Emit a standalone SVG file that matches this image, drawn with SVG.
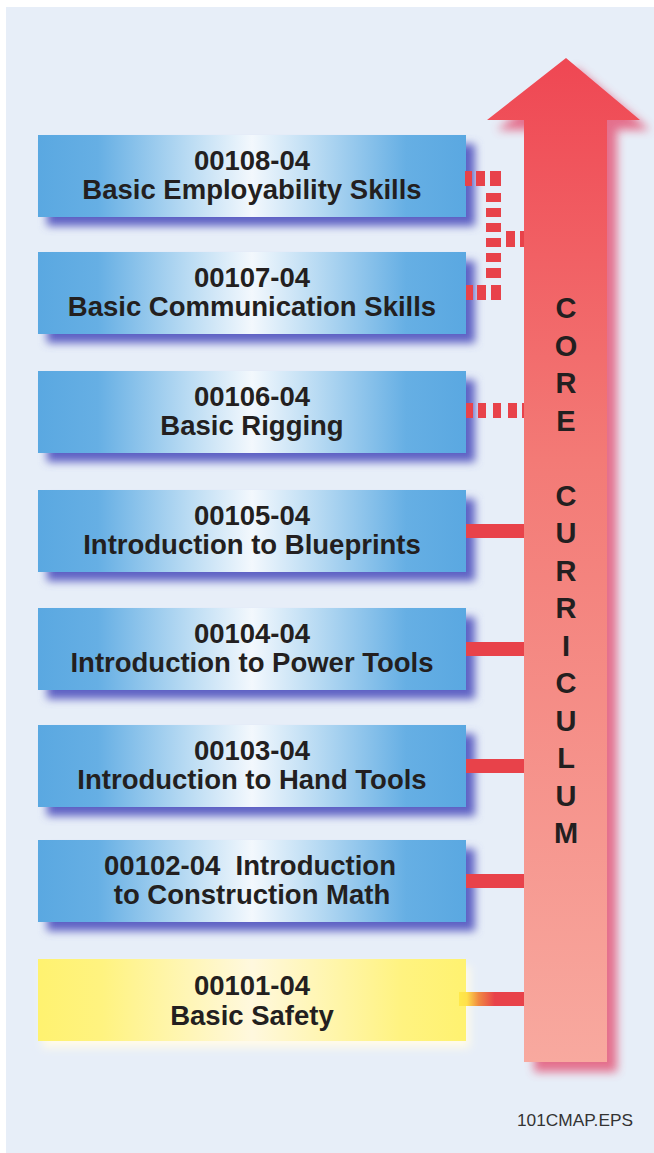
<svg xmlns="http://www.w3.org/2000/svg" width="654" height="1153" viewBox="0 0 654 1153">
<defs>
<linearGradient id="gBlue" x1="0" y1="0" x2="1" y2="0">
<stop offset="0" stop-color="#5AA8E1"/>
<stop offset="0.14" stop-color="#66AFE4"/>
<stop offset="0.35" stop-color="#B9DBF3"/>
<stop offset="0.5" stop-color="#F3F8FD"/>
<stop offset="0.65" stop-color="#B9DBF3"/>
<stop offset="0.86" stop-color="#66AFE4"/>
<stop offset="1" stop-color="#5AA8E1"/>
</linearGradient>
<linearGradient id="gYellow" x1="0" y1="0" x2="1" y2="0">
<stop offset="0" stop-color="#FFF270"/>
<stop offset="0.15" stop-color="#FFF380"/>
<stop offset="0.5" stop-color="#FFF8DE"/>
<stop offset="0.85" stop-color="#FFF380"/>
<stop offset="1" stop-color="#FFF270"/>
</linearGradient>
<linearGradient id="gArrow" x1="0" y1="58" x2="0" y2="1062" gradientUnits="userSpaceOnUse">
<stop offset="0" stop-color="#EF4753"/>
<stop offset="0.4" stop-color="#F37A76"/>
<stop offset="1" stop-color="#F8A99F"/>
</linearGradient>
<linearGradient id="gYconn" x1="459" y1="0" x2="524" y2="0" gradientUnits="userSpaceOnUse">
<stop offset="0" stop-color="#FFE94A"/>
<stop offset="0.12" stop-color="#FFE04A"/>
<stop offset="0.3" stop-color="#F08A42"/>
<stop offset="0.55" stop-color="#E8424A"/>
<stop offset="1" stop-color="#E8424A"/>
</linearGradient>
<filter id="fShadow" x="-10%" y="-30%" width="125%" height="170%">
<feGaussianBlur stdDeviation="4.5"/>
</filter>
<filter id="fArrowSh" x="-30%" y="-5%" width="160%" height="110%">
<feGaussianBlur stdDeviation="5"/>
</filter>
<style>
.bg{fill:#E7EEF8}
.box{fill:url(#gBlue)}
.ybox{fill:url(#gYellow)}
.sh{fill:#5E62C4;filter:url(#fShadow)}
.ysh{fill:#FFFBEA;filter:url(#fShadow)}
.t{font-family:"Liberation Sans",Arial,Helvetica,sans-serif;font-weight:bold;font-size:27.5px;fill:#231F20;text-anchor:middle}
.v{font-family:"Liberation Sans",Arial,Helvetica,sans-serif;font-weight:bold;font-size:29px;fill:#231F20;text-anchor:middle}
.c{fill:#E8424A}
.d{fill:#E8424A}
</style>
</defs>
<rect x="0" y="0" width="654" height="1153" fill="#FFFFFF"/>
<rect class="bg" x="6" y="7" width="648" height="1146"/>

<g id="node-00108">
<rect class="sh" x="47" y="144" width="428" height="82"/>
<rect class="box" x="38" y="135" width="428" height="82"/>
<text class="t" x="252" y="170">00108-04</text>
<text class="t" x="252" y="199">Basic Employability Skills</text>
</g>
<g id="node-00107">
<rect class="sh" x="47" y="261" width="428" height="82"/>
<rect class="box" x="38" y="252" width="428" height="82"/>
<text class="t" x="252" y="287">00107-04</text>
<text class="t" x="252" y="316">Basic Communication Skills</text>
</g>
<g id="node-00106">
<rect class="sh" x="47" y="380" width="428" height="82"/>
<rect class="box" x="38" y="371" width="428" height="82"/>
<text class="t" x="252" y="406">00106-04</text>
<text class="t" x="252" y="435">Basic Rigging</text>
</g>
<g id="node-00105">
<rect class="sh" x="47" y="499" width="428" height="82"/>
<rect class="box" x="38" y="490" width="428" height="82"/>
<text class="t" x="252" y="525">00105-04</text>
<text class="t" x="252" y="554">Introduction to Blueprints</text>
</g>
<g id="node-00104">
<rect class="sh" x="47" y="617" width="428" height="82"/>
<rect class="box" x="38" y="608" width="428" height="82"/>
<text class="t" x="252" y="643">00104-04</text>
<text class="t" x="252" y="672">Introduction to Power Tools</text>
</g>
<g id="node-00103">
<rect class="sh" x="47" y="734" width="428" height="82"/>
<rect class="box" x="38" y="725" width="428" height="82"/>
<text class="t" x="252" y="760">00103-04</text>
<text class="t" x="252" y="789">Introduction to Hand Tools</text>
</g>
<g id="node-00102">
<rect class="sh" x="47" y="849" width="428" height="82"/>
<rect class="box" x="38" y="840" width="428" height="82"/>
<text class="t" x="250" y="875" xml:space="preserve">00102-04  Introduction</text>
<text class="t" x="252" y="904">to Construction Math</text>
</g>
<g id="node-00101">
<rect class="ysh" x="42" y="966" width="428" height="82"/>
<rect class="ybox" x="38" y="959" width="428" height="82"/>
<text class="t" x="252" y="995">00101-04</text>
<text class="t" x="252" y="1025">Basic Safety</text>
</g>

<g id="connectors">
<rect class="d" x="465" y="171" width="7" height="15"/>
<rect class="d" x="476" y="171" width="9" height="15"/>
<rect class="d" x="490" y="171" width="11" height="15"/>
<rect class="d" x="486" y="193" width="15" height="9"/>
<rect class="d" x="486" y="208" width="15" height="9"/>
<rect class="d" x="486" y="223" width="15" height="9"/>
<rect class="d" x="486" y="238" width="15" height="9"/>
<rect class="d" x="486" y="253" width="15" height="9"/>
<rect class="d" x="486" y="268" width="15" height="10"/>
<rect class="d" x="466" y="285" width="7" height="15"/>
<rect class="d" x="477" y="285" width="9" height="15"/>
<rect class="d" x="491" y="285" width="10" height="15"/>
<rect class="d" x="506" y="231" width="9" height="16"/>
<rect class="d" x="520" y="231" width="6" height="16"/>
<rect class="d" x="466" y="403" width="7" height="15"/>
<rect class="d" x="478" y="403" width="8" height="15"/>
<rect class="d" x="493" y="403" width="8" height="15"/>
<rect class="d" x="508" y="403" width="9" height="15"/>
<rect class="d" x="522" y="403" width="4" height="15"/>
<rect class="c" x="466" y="524" width="60" height="14"/>
<rect class="c" x="466" y="642" width="60" height="14"/>
<rect class="c" x="466" y="759" width="60" height="14"/>
<rect class="c" x="466" y="874" width="60" height="14"/>
<rect x="459" y="992" width="67" height="14" fill="url(#gYconn)"/>
</g>

<g id="core-arrow">
<path d="M576,68 L650,130 L617,130 L617,1072 L534,1072 L534,130 L497,130 Z" fill="#E45A7A" opacity="0.85" filter="url(#fArrowSh)"/>
<path d="M566,58 L640,120 L607,120 L607,1062 L524,1062 L524,120 L487,120 Z" fill="url(#gArrow)"/>
<text class="v" x="566" y="318">C</text>
<text class="v" x="566" y="356">O</text>
<text class="v" x="566" y="393">R</text>
<text class="v" x="566" y="431">E</text>
<text class="v" x="566" y="506">C</text>
<text class="v" x="566" y="543">U</text>
<text class="v" x="566" y="581">R</text>
<text class="v" x="566" y="618">R</text>
<text class="v" x="566" y="656">I</text>
<text class="v" x="566" y="693">C</text>
<text class="v" x="566" y="731">U</text>
<text class="v" x="566" y="768">L</text>
<text class="v" x="566" y="806">U</text>
<text class="v" x="566" y="843">M</text>
</g>

<text x="517" y="1126" font-family="'Liberation Sans',Arial,sans-serif" font-size="17" fill="#333333" textLength="116" lengthAdjust="spacingAndGlyphs">101CMAP.EPS</text>
</svg>
